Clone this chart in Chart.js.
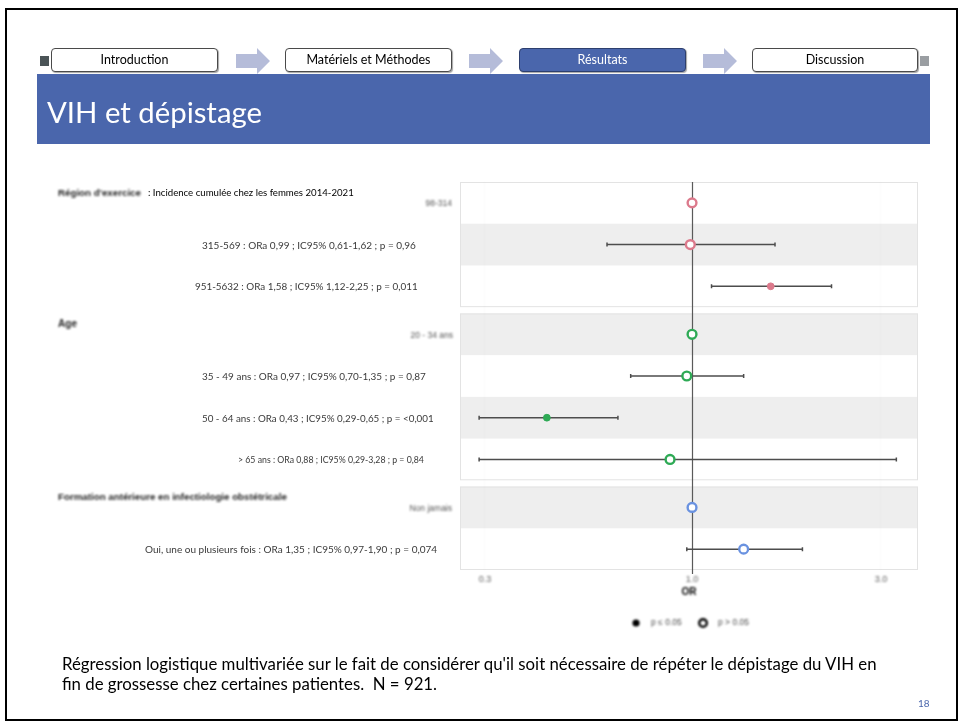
<!DOCTYPE html>
<html lang="fr">
<head>
<meta charset="utf-8">
<title>VIH et dépistage</title>
<script src="https://cdn.jsdelivr.net/npm/chart.js@4/dist/chart.umd.min.js"></script>
<style>
  html, body { margin: 0; padding: 0; background: #fff; }
  #slide { position: relative; width: 960px; height: 723px; overflow: hidden; background: #fff;
           font-family: Lato, "Open Sans", sans-serif; }
  #forest { position: absolute; left: 0; top: 0; }
  #frame { position: absolute; left: 5px; top: 8px; width: 949px; height: 709px; border: 2.5px solid #000; }
  .sq { position: absolute; top: 56px; width: 9px; height: 10px; }
  .step { position: absolute; top: 48px; height: 24px; box-sizing: border-box; border: 1px solid #4a4a4a;
          border-radius: 4px; background: #fff; color: #000; font-size: 12.5px; line-height: 22px;
          text-align: center; box-shadow: 1px 1px 1px rgba(0,0,0,0.35); white-space: nowrap; }
  .step.on { background: #4a66ac; color: #fff; border-color: #2d3f6e; }
  .arrow { position: absolute; top: 48px; }
  #banner { position: absolute; left: 37px; top: 74px; width: 893px; height: 70px; background: #4a66ac; }
  #title { position: absolute; left: 47px; top: 94px; color: #fff; font-size: 28px; white-space: nowrap; line-height: 1.2; }
  .note { position: absolute; left: 62px; color: #000; font-size: 15.5px; white-space: nowrap; line-height: 1.2; }
  #page { position: absolute; left: 918px; top: 697px; color: #4a66ac; font-size: 10px; }
</style>
</head>
<body>
<div id="slide">
  <canvas id="forest" width="960" height="723"></canvas>

  <div class="sq" style="left:40px;background:#4b5457;"></div>
  <div class="sq" style="left:920px;background:#9a9ea2;"></div>

  <div class="step" style="left:51px;width:167px;">Introduction</div>
  <svg class="arrow" style="left:236px" width="36" height="26"><polygon points="0,6 21,6 21,0 34,13 21,26 21,20 0,20" fill="#b5bcd9"/></svg>
  <div class="step" style="left:285px;width:167px;">Matériels et Méthodes</div>
  <svg class="arrow" style="left:469px" width="36" height="26"><polygon points="0,6 21,6 21,0 34,13 21,26 21,20 0,20" fill="#b5bcd9"/></svg>
  <div class="step on" style="left:519px;width:167px;">Résultats</div>
  <svg class="arrow" style="left:703px" width="36" height="26"><polygon points="0,6 21,6 21,0 34,13 21,26 21,20 0,20" fill="#b5bcd9"/></svg>
  <div class="step" style="left:752px;width:166px;">Discussion</div>

  <div id="banner"></div>
  <div id="title">VIH et dépistage</div>

  <div class="note" id="note1" style="top:654px;">Régression logistique multivariée sur le fait de considérer qu'il soit nécessaire de répéter le dépistage du VIH en</div>
  <div class="note" id="note2" style="top:674px;">fin de grossesse chez certaines patientes.&nbsp; N = 921.</div>
  <div id="page">18</div>

  <div id="frame"></div>
</div>

<script>
// ---- Model variables and their levels ----
const groups = [
  "Région d'exercice",
  "Age",
  "Formation antérieure en infectiologie obstétricale"
];
const groupSubtitle = [": Incidence cumulée chez les femmes 2014-2021", "", ""];

const levels = [
  "98-314", "315-569", "951-5632",
  "20 - 34 ans", "35 - 49 ans", "50 - 64 ans", "> 65 ans",
  "Non jamais", "Oui, une ou plusieurs fois"
];
const levelGroup = [0, 0, 0, 1, 1, 1, 1, 2, 2];

// ---- Adjusted odds ratios, 95% CI, p-values (null = reference level) ----
const oddsRatios = [1, 0.99, 1.58, 1, 0.97, 0.43, 0.88, 1, 1.35];
const ciLower    = [null, 0.61, 1.12, null, 0.70, 0.29, 0.29, null, 0.97];
const ciUpper    = [null, 1.62, 2.25, null, 1.35, 0.65, 3.28, null, 1.90];
const pValues    = [null, 0.96, 0.011, null, 0.87, 0.001, 0.84, null, 0.074];

const statLabels = [
  null,
  "315-569 : ORa 0,99 ; IC95% 0,61-1,62 ; p = 0,96",
  "951-5632 : ORa 1,58 ; IC95% 1,12-2,25 ; p = 0,011",
  null,
  "35 - 49 ans : ORa 0,97 ; IC95% 0,70-1,35 ; p = 0,87",
  "50 - 64 ans : ORa 0,43 ; IC95% 0,29-0,65 ; p = <0,001",
  "> 65 ans : ORa 0,88 ; IC95% 0,29-3,28 ; p = 0,84",
  null,
  "Oui, une ou plusieurs fois : ORa 1,35 ; IC95% 0,97-1,90 ; p = 0,074"
];

// ---- Axis ticks and legend ----
const xTickValues = [0.3, 1, 3];
const xTickLabels = ["0.3", "1.0", "3.0"];
const xTitle = "OR";
const legendLabels = ["p \u2264 0.05", "p > 0.05"];

// ---- Layout (pixel spans of the row texts, gap between variable panels) ----
const GROUP_GAP = 0.15;
const labelSpan = [
  [420, 452], [202, 416], [195, 418],
  [393, 453], [202, 426], [202, 434], [238, 424],
  [402, 452], [145, 437]
];
const headerSpan = [[58, 141], [58, 77], [58, 287]];
const subtitleSpan = [[148, 354], null, null];
const groupColors = ["#dc7a8c", "#2eaa55", "#6a92e0"];
const SOFT = "blur(0.8px)";

const rowPos = levels.map((_, i) => i + levelGroup[i] * GROUP_GAP);
const isSig = i => pValues[i] !== null && pValues[i] <= 0.05;

function fitText(ctx, text, x0, x1, y, family, weight, color, align) {
  ctx.font = weight + " 20px " + family;
  const w = ctx.measureText(text).width;
  const size = 20 * (x1 - x0) / w;
  ctx.font = weight + " " + size.toFixed(2) + "px " + family;
  ctx.fillStyle = color;
  ctx.textBaseline = "middle";
  ctx.textAlign = align || "left";
  ctx.fillText(text, align === "right" ? x1 : x0, y);
}

// Striped panels behind each variable, soft axis text
const panelPlugin = {
  id: "panels",
  beforeDraw(chart) {
    const { ctx, chartArea: a, scales: { y } } = chart;
    ctx.save();
    ctx.filter = "none";
    groups.forEach((g, gi) => {
      const idx = levels.map((_, i) => i).filter(i => levelGroup[i] === gi);
      const top = y.getPixelForValue(rowPos[idx[0]] - 0.5);
      const bot = y.getPixelForValue(rowPos[idx[idx.length - 1]] + 0.5);
      ctx.fillStyle = "#ffffff";
      ctx.fillRect(a.left, top, a.right - a.left, bot - top);
      idx.forEach(i => {
        if (i % 2 === 1) {
          const t = y.getPixelForValue(rowPos[i] - 0.5);
          const b = y.getPixelForValue(rowPos[i] + 0.5);
          ctx.fillStyle = "#eeeeee";
          ctx.fillRect(a.left, t, a.right - a.left, b - t);
        }
      });
      ctx.strokeStyle = "#e3e3e3";
      ctx.lineWidth = 1;
      ctx.strokeRect(a.left + 0.5, top + 0.5, a.right - a.left - 1, bot - top - 1);
    });
    ctx.restore();
    ctx.filter = SOFT;
  },
  beforeDatasetsDraw(chart) {
    const { ctx, chartArea: a, scales: { x, y } } = chart;
    ctx.filter = "none";
    ctx.save();
    // reference line at OR = 1
    const x1 = Math.round(x.getPixelForValue(1)) + 0.5;
    ctx.strokeStyle = "#5a5a5a";
    ctx.lineWidth = 1.2;
    ctx.beginPath();
    ctx.moveTo(x1, a.top);
    ctx.lineTo(x1, a.bottom + 4);
    ctx.stroke();
    // confidence intervals
    ctx.strokeStyle = "#4d4d4d";
    ctx.lineWidth = 1.5;
    levels.forEach((_, i) => {
      if (ciLower[i] === null) return;
      const py = y.getPixelForValue(rowPos[i]);
      const l = x.getPixelForValue(ciLower[i]);
      const r = x.getPixelForValue(ciUpper[i]);
      ctx.beginPath();
      ctx.moveTo(l, py); ctx.lineTo(r, py);
      ctx.moveTo(l, py - 2); ctx.lineTo(l, py + 2);
      ctx.moveTo(r, py - 2); ctx.lineTo(r, py + 2);
      ctx.stroke();
    });
    ctx.restore();
  },
  afterDraw(chart) {
    const { ctx, scales: { x, y } } = chart;
    ctx.save();
    // row texts
    levels.forEach((lv, i) => {
      const py = y.getPixelForValue(rowPos[i]);
      const [s0, s1] = labelSpan[i];
      if (statLabels[i] === null) {
        ctx.filter = SOFT;
        ctx.font = "8.5px 'Liberation Sans'";
        ctx.fillStyle = "#555555";
        ctx.textAlign = "right";
        ctx.textBaseline = "middle";
        ctx.fillText(lv, s1, py + 1);
      } else {
        ctx.filter = "none";
        fitText(ctx, statLabels[i], s0, s1, py + 1, "Lato", "normal", "#3a3a3a", "left");
      }
    });
    // variable headers
    groups.forEach((g, gi) => {
      const first = levels.findIndex((_, i) => levelGroup[i] === gi);
      const py = y.getPixelForValue(rowPos[first]) - 10;
      ctx.filter = SOFT;
      fitText(ctx, g, headerSpan[gi][0], headerSpan[gi][1], py, "Liberation Sans", "bold", "#1e1e1e", "left");
      if (groupSubtitle[gi]) {
        ctx.filter = "none";
        fitText(ctx, groupSubtitle[gi], subtitleSpan[gi][0], subtitleSpan[gi][1], py, "Lato", "normal", "#000000", "left");
      }
    });
    // legend for marker fill
    const cx = x.getPixelForValue(1);
    const ly = 623;
    ctx.filter = SOFT;
    ctx.fillStyle = "#000";
    ctx.beginPath(); ctx.arc(cx - 56, ly, 3.6, 0, Math.PI * 2); ctx.fill();
    ctx.strokeStyle = "#000"; ctx.lineWidth = 2.4;
    ctx.beginPath(); ctx.arc(cx + 11, ly, 3.8, 0, Math.PI * 2); ctx.stroke();
    ctx.font = "8.5px 'Liberation Sans'";
    ctx.fillStyle = "#4a4a4a";
    ctx.textAlign = "left"; ctx.textBaseline = "middle";
    ctx.fillText(legendLabels[0], cx - 41, ly);
    ctx.fillText(legendLabels[1], cx + 26, ly);
    ctx.restore();
    ctx.filter = "none";
  }
};

const datasets = groups.map((g, gi) => {
  const idx = levels.map((_, i) => i).filter(i => levelGroup[i] === gi);
  const col = groupColors[gi];
  return {
    label: g,
    data: idx.map(i => ({ x: oddsRatios[i], y: rowPos[i], i })),
    pointRadius: c => (c.raw && isSig(c.raw.i)) ? 3.4 : 4.4,
    pointHoverRadius: c => (c.raw && isSig(c.raw.i)) ? 3.4 : 4.4,
    pointBorderWidth: c => (c.raw && isSig(c.raw.i)) ? 1 : 2.4,
    pointBackgroundColor: c => (c.raw && isSig(c.raw.i)) ? col : "#ffffff",
    pointBorderColor: col,
    showLine: false
  };
});

new Chart(document.getElementById("forest"), {
  type: "scatter",
  data: { datasets },
  options: {
    responsive: false,
    devicePixelRatio: 1,
    animation: false,
    events: [],
    layout: { padding: { left: 460, right: 42, top: 182, bottom: 123 } },
    plugins: { legend: { display: false }, tooltip: { enabled: false } },
    scales: {
      x: {
        type: "logarithmic",
        min: 0.2595,
        max: 3.72,
        afterBuildTicks: s => { s.ticks = xTickValues.map(v => ({ value: v })); },
        afterFit: s => { s.height = 30; },
        ticks: {
          callback: (v, i) => xTickLabels[i],
          color: "#5e5e5e",
          font: { family: "Liberation Sans", size: 9 },
          padding: 4,
          maxRotation: 0,
          autoSkip: false
        },
        grid: { color: "rgba(0,0,0,0.025)", drawTicks: false },
        border: { display: false },
        title: {
          display: true, text: xTitle, color: "#000",
          font: { family: "Liberation Sans", size: 10, weight: "bold" },
          padding: { top: 0, bottom: 2 }
        }
      },
      y: { type: "linear", reverse: true, min: -0.5, max: 8.8, display: false }
    }
  },
  plugins: [panelPlugin]
});

// Slide text sizes fitted to their line lengths
function fitEl(id, width) {
  const el = document.getElementById(id);
  const s = parseFloat(getComputedStyle(el).fontSize);
  el.style.fontSize = (s * width / el.getBoundingClientRect().width).toFixed(2) + "px";
}
fitEl("note1", 815);
document.getElementById("note2").style.fontSize = document.getElementById("note1").style.fontSize;
fitEl("title", 215);
</script>
</body>
</html>
